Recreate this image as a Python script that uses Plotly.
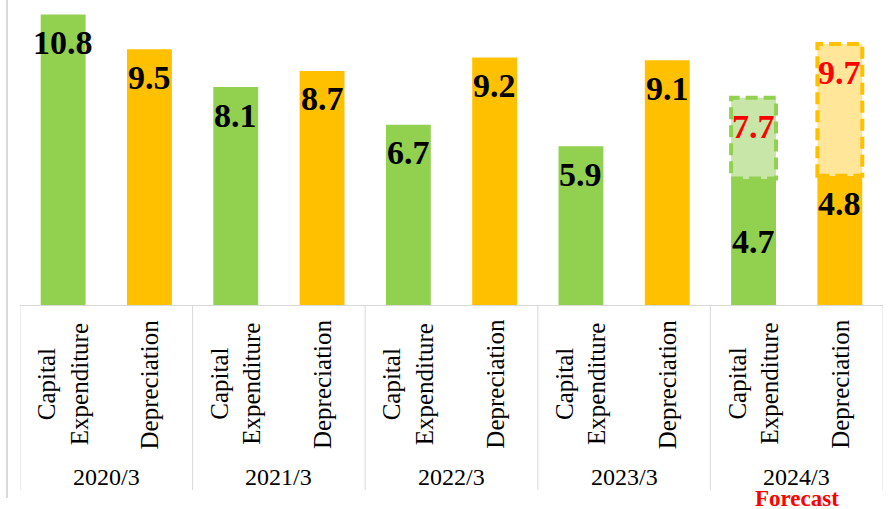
import plotly.graph_objects as go

years = ["2020/3", "2021/3", "2022/3", "2023/3", "2024/3"]
items = ["Capital<br>Expenditure", "Depreciation"]
capex = [10.8, 8.1, 6.7, 5.9, 4.7]
depreciation = [9.5, 8.7, 9.2, 9.1, 4.8]
capex_forecast = 7.7
depreciation_forecast = 9.7
forecast_note = "Forecast"

GREEN = "#92D050"
ORANGE = "#FFC000"
LIGHT_GREEN = "#C9E6A9"
LIGHT_ORANGE = "#FFE699"
GRID = "#D9D9D9"
SERIF = "Liberation Serif"

# slot positions: two bars per year
x_capex = [2 * i for i in range(len(years))]
x_depr = [2 * i + 1 for i in range(len(years))]
bar_w = 0.52

# pixel helpers (plot area: top 9px, axis at 305px)
top_px, axis_px = 9, 305
plot_h = axis_px - top_px


def py(p):
    return (axis_px - p) / plot_h


fig = go.Figure()
fig.add_trace(go.Bar(x=x_capex, y=capex, width=bar_w, marker=dict(color=GREEN, line_width=0),
                     hoverinfo="skip"))
fig.add_trace(go.Bar(x=x_depr, y=depreciation, width=bar_w, marker=dict(color=ORANGE, line_width=0),
                     hoverinfo="skip"))

# forecast extension segments
fx = [x_capex[-1], x_depr[-1]]
fbase = [capex[-1], depreciation[-1]]
ftop = [capex_forecast, depreciation_forecast]
fig.add_trace(go.Bar(x=fx, y=[t - b for t, b in zip(ftop, fbase)], base=fbase, width=bar_w,
                     marker=dict(color=[LIGHT_GREEN, LIGHT_ORANGE], line_width=0), hoverinfo="skip"))

shapes = []
for x, b, t, c in zip(fx, fbase, ftop, [GREEN, ORANGE]):
    shapes.append(dict(type="rect", xref="x", yref="y", x0=x - bar_w / 2, x1=x + bar_w / 2,
                       y0=b, y1=t, line=dict(color=c, width=4, dash="12px,6px"), layer="above"))

annotations = []
label_font = dict(family=SERIF, size=34, color="black")
for xs, vals in [(x_capex, capex), (x_depr, depreciation)]:
    for i, (x, v) in enumerate(zip(xs, vals)):
        if i == len(years) - 1 and xs is x_capex:
            annotations.append(dict(x=x, y=v / 2, text="<b>%.1f</b>" % v, showarrow=False,
                                    yanchor="middle", font=label_font))
        else:
            annotations.append(dict(x=x, y=v, text="<b>%.1f</b>" % v, showarrow=False,
                                    yanchor="middle", yshift=-28, font=label_font))
for x, t in zip(fx, ftop):
    annotations.append(dict(x=x, y=t, text="<b>%.1f</b>" % t, showarrow=False, yanchor="middle",
                            yshift=-29, font=dict(family=SERIF, size=34, color="#FF0000")))

# category labels (rotated) and year labels
for i, yr in enumerate(years):
    for x, name in zip([x_capex[i], x_depr[i]], items):
        annotations.append(dict(x=x, y=py(384), xref="x", yref="paper", text=name, textangle=-90,
                                showarrow=False, yanchor="middle",
                                font=dict(family=SERIF, size=25, color="black")))
    annotations.append(dict(x=2 * i + 0.5, y=py(477), xref="x", yref="paper", text=yr,
                            showarrow=False, yanchor="middle",
                            font=dict(family=SERIF, size=24, color="black")))
annotations.append(dict(x=2 * (len(years) - 1) + 0.5, y=py(499), xref="x", yref="paper",
                        text="<b>%s</b>" % forecast_note, showarrow=False, yanchor="middle",
                        font=dict(family=SERIF, size=23, color="#FF0000")))

# group dividers below the axis
for k in range(len(years) + 1):
    shapes.append(dict(type="line", xref="x", yref="paper", x0=2 * k - 0.5, x1=2 * k - 0.5,
                       y0=0, y1=py(490), line=dict(color=GRID, width=1)))
# outer frame line on the left
shapes.append(dict(type="line", xref="paper", yref="paper", x0=-13 / 863, x1=-13 / 863,
                   y0=py(0), y1=py(498), line=dict(color=GRID, width=2)))

fig.update_layout(
    width=895, height=509,
    margin=dict(l=20, r=12, t=top_px, b=509 - axis_px),
    plot_bgcolor="white", paper_bgcolor="white",
    barmode="overlay", showlegend=False,
    shapes=shapes, annotations=annotations,
    xaxis=dict(range=[-0.5, 2 * len(years) - 0.5], showticklabels=False, showgrid=False,
               zeroline=False, showline=True, linecolor=GRID, linewidth=1, ticks=""),
    yaxis=dict(range=[0, 11], visible=False),
)

fig.write_html("out.html", config={"displayModeBar": False},
               post_script="document.body.style.margin='0';document.body.style.overflow='hidden';")
